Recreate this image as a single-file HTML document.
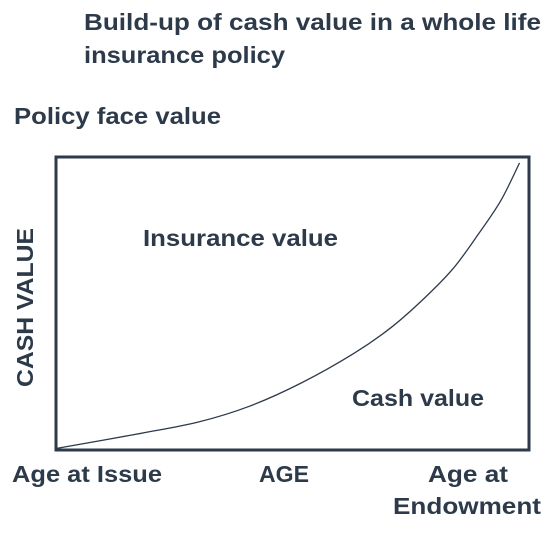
<!DOCTYPE html>
<html><head><meta charset="utf-8"><style>
body{margin:0;width:556px;height:534px;background:#fff;overflow:hidden;font-family:"Liberation Sans",sans-serif;font-weight:bold;color:#2d3a4a}
text{font-family:"Liberation Sans",sans-serif;font-weight:bold;fill:#2d3a4a;font-size:23px}
</style></head><body>
<svg width="556" height="534" style="position:absolute;left:0;top:0">
<text x="84" y="30" textLength="457" lengthAdjust="spacingAndGlyphs">Build-up of cash value in a whole life</text>
<text x="84" y="63" textLength="201" lengthAdjust="spacingAndGlyphs">insurance policy</text>
<text x="14" y="124" textLength="207" lengthAdjust="spacingAndGlyphs">Policy face value</text>
<rect x="56" y="157" width="473" height="293" fill="none" stroke="#2d3a4a" stroke-width="3"/>
<path id="curve" fill="none" stroke="#2d3a4a" stroke-width="1.3"/>
<text x="143" y="246" textLength="195" lengthAdjust="spacingAndGlyphs">Insurance value</text>
<text x="352" y="406" textLength="132" lengthAdjust="spacingAndGlyphs">Cash value</text>
<text transform="translate(33,387) rotate(-90)" textLength="159" lengthAdjust="spacingAndGlyphs">CASH VALUE</text>
<text x="12" y="482" textLength="150" lengthAdjust="spacingAndGlyphs">Age at Issue</text>
<text x="259" y="482" textLength="50" lengthAdjust="spacingAndGlyphs">AGE</text>
<text x="428" y="482" textLength="80" lengthAdjust="spacingAndGlyphs">Age at</text>
<text x="393" y="514" textLength="148" lengthAdjust="spacingAndGlyphs">Endowment</text>
</svg>
<script>
const ages=[0,18,30,41,52,63,71,78,84,89,94,98];
const values=[0.5,5.7,9.5,15,23,33,42,52,62,73,85,98];
const X=a=>56+a/100*473, Y=v=>450-v/100*293;
const p=ages.map((a,i)=>[X(a),Y(values[i])]);
let d='M'+p[0][0]+' '+p[0][1];
for(let i=0;i<p.length-1;i++){const p0=p[i-1]||p[i],p1=p[i],p2=p[i+1],p3=p[i+2]||p2;
d+=' C'+(p1[0]+(p2[0]-p0[0])/6)+' '+(p1[1]+(p2[1]-p0[1])/6)+' '+(p2[0]-(p3[0]-p1[0])/6)+' '+(p2[1]-(p3[1]-p1[1])/6)+' '+p2[0]+' '+p2[1];}
document.getElementById('curve').setAttribute('d',d);
</script>
</body></html>
